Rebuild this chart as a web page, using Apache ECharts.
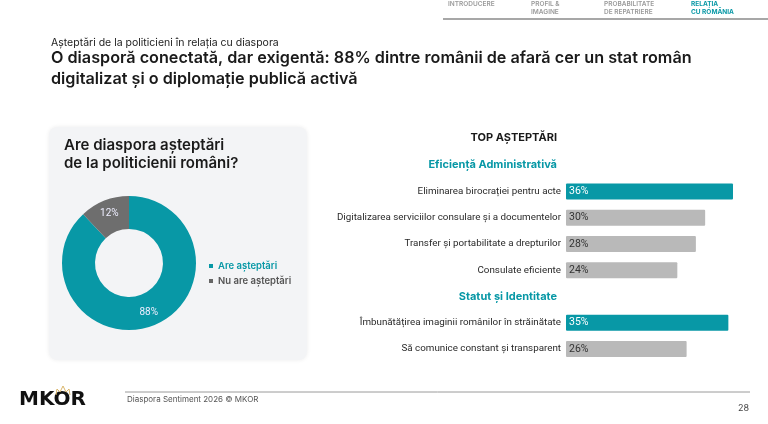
<!DOCTYPE html>
<html><head><meta charset="utf-8">
<script src="https://cdn.jsdelivr.net/npm/echarts@6/dist/echarts.min.js"></script>
<style>html,body{margin:0;padding:0;background:#fff}#c{width:768px;height:424px}</style>
</head><body><div id="c"></div>
<script>
// ---- data ----
const donutNames = ['Are așteptări', 'Nu are așteptări'];
const donutValues = [88, 12];
const barCategories = [
  'Eficiență Administrativă',
  'Eliminarea birocrației pentru acte',
  'Digitalizarea serviciilor consulare și a documentelor',
  'Transfer și portabilitate a drepturilor',
  'Consulate eficiente',
  'Statut și Identitate',
  'Îmbunătățirea imaginii românilor în străinătate',
  'Să comunice constant și transparent'
];
const barValues = [null, 36, 30, 28, 24, null, 35, 26];
const groupHeader = [true, false, false, false, false, true, false, false];
const topInGroup = [false, true, false, false, false, false, true, false];
const navItems = ['INTRODUCERE', 'PROFIL &\nIMAGINE', 'PROBABILITATE\nDE REPATRIERE', 'RELAȚIA\nCU ROMÂNIA'];

const TEAL = '#0898a6', GRAY = '#b9b9b9', DARK = '#1a1a1a';
const navX = [448, 531, 604, 691];

const chart = echarts.init(document.getElementById('c'));
const graphics = [
  {type:'rect', shape:{x:49,y:127,width:258,height:233,r:8}, style:{fill:'#f3f4f6', shadowBlur:4, shadowColor:'rgba(0,0,0,0.08)'}, z:-10},
  {type:'line', shape:{x1:443,y1:19,x2:768,y2:19}, style:{stroke:'#8a8a8a', lineWidth:1.5}},
  {type:'line', shape:{x1:125,y1:392,x2:750,y2:392}, style:{stroke:'#9a9a9a', lineWidth:1}},
  {type:'text', left:127, top:396, style:{text:'Diaspora Sentiment 2026 © MKOR', fill:'#555', font:'8px Inter'}},
  {type:'text', left:738, top:404, style:{text:'28', fill:'#444', font:'9px Inter'}},
  {type:'text', left:19, top:390, style:{text:'MKOR', fill:'#111', font:'bold 20px "DejaVu Sans"'}},
  {type:'polyline', shape:{points:[[56,395],[57,389],[60,392],[63,386],[66,392],[69,389],[70,395]]}, style:{stroke:'#d9b56a', lineWidth:1, fill:null}, z:10}
];
navItems.forEach((t,i)=>{
  graphics.push({type:'text', left:navX[i], top:0, style:{text:t, fill: i===3?TEAL:'#9a9a9a', font:(i===3?'700 ':'600 ')+'6.5px Inter', lineHeight:8}});
});

chart.setOption({
  animation:false,
  title:[
    {text:'Așteptări de la politicieni în relația cu diaspora', left:51, top:37, padding:0, textStyle:{fontFamily:'Inter', fontWeight:400, fontSize:10.5, color:'#222'}},
    {text:'O diasporă conectată, dar exigentă: 88% dintre românii de afară cer un stat român\ndigitalizat și o diplomație publică activă', left:51, top:48, padding:0, textStyle:{fontFamily:'Inter', fontWeight:600, fontSize:16.2, lineHeight:21, color:DARK}},
    {text:'Are diaspora așteptări\nde la politicienii români?', left:64, top:136, padding:0, textStyle:{fontFamily:'Inter', fontWeight:600, fontSize:15, lineHeight:18, color:DARK}},
    {text:'TOP AȘTEPTĂRI', right:211, top:132, padding:0, textStyle:{fontFamily:'Inter', fontWeight:700, fontSize:11, color:DARK}}
  ],
  graphic:graphics,
  legend:{
    orient:'vertical', left:204, top:256, itemWidth:4, itemHeight:4, itemGap:5, icon:'rect',
    data:[
      {name:donutNames[0], itemStyle:{color:TEAL}, textStyle:{color:TEAL}},
      {name:donutNames[1], itemStyle:{color:'#666'}, textStyle:{color:'#555'}}
    ],
    textStyle:{fontFamily:'Inter', fontWeight:600, fontSize:9.5}
  },
  grid:{left:566, width:167, top:152, height:210},
  xAxis:{type:'value', min:0, max:36, show:false},
  yAxis:{
    type:'category', inverse:true, data:barCategories,
    axisLine:{show:false}, axisTick:{show:false},
    axisLabel:{
      margin:5, fontFamily:'Roboto', fontSize:9.8, color:'#2a2a2a',
      formatter:(v,i)=> groupHeader[i] ? '{h|'+v+'}' : v,
      rich:{h:{fontFamily:'Inter', fontWeight:700, fontSize:11, color:TEAL, padding:[0,4,0,0]}}
    }
  },
  series:[
    {
      type:'pie', center:[129,263], radius:[34,67], startAngle:90, clockwise:true,
      label:{show:true, position:'inside', formatter:'{c}%', color:'#eef', fontFamily:'Roboto', fontSize:10},
      labelLine:{show:false},
      emphasis:{disabled:true},
      data:donutValues.map((v,i)=>({name:donutNames[i], value:v, itemStyle:{color: i===0?TEAL:'#6e6e6e'}}))
    },
    {
      type:'bar', barWidth:16,
      data:barValues.map((v,i)=>({value:v, itemStyle:{color: topInGroup[i]?TEAL:GRAY, borderRadius:1},
        label:{color: topInGroup[i]?'#fff':'#333'}})),
      label:{show:true, position:'insideLeft', distance:3, formatter:'{c}%', fontFamily:'Roboto', fontSize:10.5}
    }
  ]
});
</script></body></html>
